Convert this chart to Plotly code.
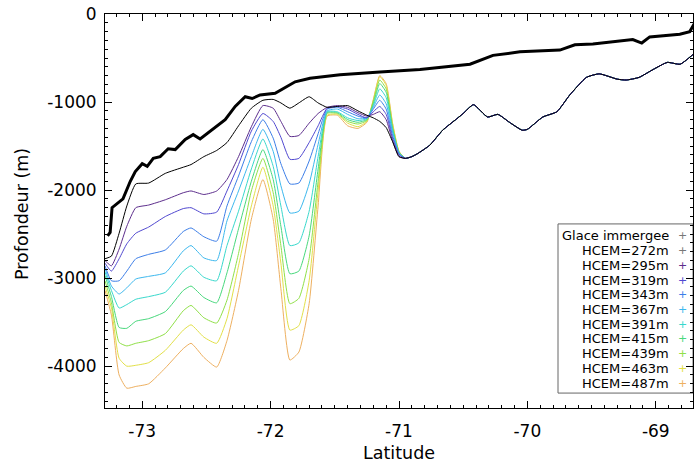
import plotly.graph_objects as go

# ---------------- data ----------------
lat_grid = [-73.29, -73.24, -73.18, -73.12, -73.05, -72.95, -72.82, -72.68, -72.62, -72.52,
            -72.42, -72.34, -72.25, -72.15, -72.06, -71.98, -71.92, -71.85, -71.78, -71.70,
            -71.63, -71.56, -71.48, -71.40, -71.32, -71.25, -71.20, -71.15, -71.10, -71.05, -71.00]

d272 = [-2780, -2750, -2490, -2180, -1930, -1920, -1810, -1740, -1710, -1620, -1550, -1460, -1270, -1070, -980, -970,
        -1010, -1070, -1010, -940, -1010, -1060, -1050, -1040, -1100, -1150, -1180, -1220, -1290, -1450, -1620]
d295 = [-2800, -2860, -2670, -2410, -2200, -2170, -2110, -2030, -2010, -2050, -2010, -1880, -1620, -1280, -1040, -1070,
        -1220, -1390, -1380, -1240, -1130, -1060, -1040, -1060, -1120, -1160, -1140, -1110, -1200, -1440, -1620]
d319 = [-2830, -2920, -2780, -2610, -2490, -2420, -2300, -2210, -2200, -2270, -2250, -2010, -1710, -1330, -1130, -1220,
        -1400, -1650, -1640, -1460, -1270, -1070, -1050, -1080, -1140, -1180, -1110, -1050, -1140, -1410, -1600]
d343 = [-2860, -3030, -3030, -2920, -2780, -2730, -2680, -2470, -2430, -2530, -2580, -2180, -1840, -1450, -1200, -1410,
        -1700, -1930, -1920, -1670, -1360, -1080, -1060, -1110, -1160, -1180, -1080, -980, -1080, -1380, -1590]
d367 = [-2890, -3090, -3180, -3110, -3010, -2980, -2940, -2690, -2630, -2770, -2800, -2350, -2010, -1620, -1310, -1560,
        -1950, -2260, -2240, -1930, -1480, -1100, -1080, -1140, -1190, -1180, -1060, -920, -1020, -1340, -1580]
d391 = [-2930, -3140, -3340, -3300, -3240, -3210, -3160, -2920, -2860, -2990, -3030, -2630, -2240, -1760, -1420, -1730,
        -2180, -2630, -2600, -2240, -1620, -1110, -1110, -1180, -1210, -1190, -1040, -850, -950, -1320, -1580]
d415 = [-2970, -3210, -3560, -3570, -3490, -3460, -3380, -3140, -3090, -3220, -3280, -2940, -2440, -1900, -1540, -1880,
        -2410, -2950, -2920, -2520, -1760, -1120, -1120, -1200, -1230, -1200, -1020, -790, -890, -1300, -1570]
d439 = [-3030, -3280, -3730, -3770, -3740, -3710, -3630, -3370, -3310, -3450, -3510, -3250, -2720, -2010, -1640, -2030,
        -2630, -3290, -3230, -2780, -1900, -1130, -1130, -1220, -1250, -1210, -990, -750, -850, -1280, -1570]
d463 = [-3090, -3340, -3910, -4000, -3990, -3960, -3820, -3590, -3530, -3670, -3740, -3460, -2860, -2180, -1740, -2180,
        -2830, -3590, -3540, -3030, -2010, -1150, -1140, -1240, -1280, -1220, -980, -710, -810, -1250, -1560]
d487 = [-3140, -3420, -4100, -4250, -4230, -4200, -4020, -3800, -3740, -3900, -4010, -3710, -3140, -2330, -1880, -2330,
        -3120, -3930, -3840, -3290, -2180, -1160, -1150, -1270, -1300, -1230, -970, -700, -790, -1240, -1560]

# shared bathymetry north of -71
tail_lat = [-70.95, -70.90, -70.86, -70.76, -70.66, -70.55, -70.50, -70.42, -70.31, -70.23, -70.14, -70.04, -70.00,
            -69.88, -69.77, -69.67, -69.54, -69.44, -69.30, -69.23, -69.13, -69.02, -68.91, -68.81, -68.71]
tail_depth = [-1640, -1620, -1590, -1490, -1320, -1190, -1130, -1030, -1170, -1140, -1230, -1320, -1310,
              -1170, -1110, -920, -720, -680, -740, -750, -720, -630, -550, -570, -460]

# ice draft ("Glace immergee")
ice_lat = [-73.27, -73.25, -73.235, -73.19, -73.15, -73.093, -73.054, -73.0, -72.961, -72.914, -72.86, -72.798,
           -72.743, -72.665, -72.603, -72.549, -72.455, -72.354, -72.276, -72.198, -72.144, -72.082, -71.965,
           -71.887, -71.809, -71.693, -71.459, -71.148, -70.837, -70.447, -70.268, -70.058, -69.747, -69.63,
           -69.49, -69.179, -69.109, -69.047, -68.813, -68.735, -68.70]
ice_depth = [-2520, -2480, -2200, -2150, -2100, -1900, -1790, -1700, -1730, -1640, -1620, -1530,
             -1540, -1425, -1370, -1420, -1310, -1200, -1050, -940, -960, -920, -900,
             -830, -770, -730, -690, -660, -630, -570, -470, -430, -410, -350,
             -340, -290, -330, -260, -230, -200, -110]

series_names = ["HCEM=272m", "HCEM=295m", "HCEM=319m", "HCEM=343m", "HCEM=367m",
                "HCEM=391m", "HCEM=415m", "HCEM=439m", "HCEM=463m", "HCEM=487m"]
series_depths = [d272, d295, d319, d343, d367, d391, d415, d439, d463, d487]
series_colors = ["#000000", "#5c2d8c", "#5048d0", "#3c7ee8", "#3cb8ee", "#38d8cc",
                 "#48d87c", "#90e048", "#e2e048", "#eeb060"]

x_ticks = [-73, -72, -71, -70, -69]
y_ticks = [0, -1000, -2000, -3000, -4000]
x_range = [-73.29, -68.71]
y_range = [-4475, 0]

FONT = "DejaVu Sans"

fig = go.Figure()

# draw deepest first so darker lines sit on top
for name, dep, col in reversed(list(zip(series_names, series_depths, series_colors))):
    fig.add_trace(go.Scatter(
        x=lat_grid + tail_lat, y=dep + tail_depth, mode="lines", name=name,
        line=dict(color=col, width=1, shape="spline", smoothing=0.5),
        showlegend=False, hoverinfo="skip"))

fig.add_trace(go.Scatter(x=ice_lat, y=ice_depth, mode="lines", name="Glace immergee",
                         line=dict(color="black", width=3), showlegend=False, hoverinfo="skip"))

# empty trace to activate the mirrored (top/right) tick axes
fig.add_trace(go.Scatter(x=[], y=[], xaxis="x2", yaxis="y2", showlegend=False, hoverinfo="skip"))

# ---------------- layout ----------------
L, R, T, B, W, H = 105, 4, 12, 56, 697, 464
PW, PH = W - L - R, H - T - B

def px_x(px):
    return (px - L) / PW

def px_y(py):
    return (H - B - py) / PH

axis_common = dict(
    showline=True, linecolor="black", linewidth=1,
    ticks="inside", ticklen=7, tickwidth=1, tickcolor="black",
    showgrid=False, zeroline=False,
    tickfont=dict(family=FONT, size=17, color="black"),
)
xminor = dict(dtick=0.1, tick0=0, ticks="inside", ticklen=3, tickcolor="black", showgrid=False)
yminor = dict(dtick=100, tick0=0, ticks="inside", ticklen=3, tickcolor="black", showgrid=False)

fig.update_layout(
    width=W, height=H, autosize=False,
    margin=dict(l=L, r=R, t=T, b=B, pad=0),
    paper_bgcolor="white", plot_bgcolor="white",
    xaxis=dict(range=x_range, tickvals=x_ticks, ticktext=[str(v) for v in x_ticks],
               minor=xminor, ticklabelstandoff=8, **axis_common),
    yaxis=dict(range=y_range, tickvals=y_ticks, ticktext=[str(v) for v in y_ticks],
               minor=yminor, ticklabelstandoff=4, **axis_common),
    xaxis2=dict(range=x_range, overlaying="x", side="top", anchor="y2", tickvals=x_ticks,
                showticklabels=False, minor=xminor, **axis_common),
    yaxis2=dict(range=y_range, overlaying="y", side="right", anchor="x2", tickvals=y_ticks,
                showticklabels=False, minor=yminor, **axis_common),
    showlegend=False,
)

annotations = [
    dict(text="Latitude", x=0.5, y=px_y(453), xref="paper", yref="paper", showarrow=False,
         xanchor="center", yanchor="middle", font=dict(family=FONT, size=17.5, color="black")),
    dict(text="Profondeur (m)", x=px_x(22), y=px_y(213), xref="paper", yref="paper", showarrow=False,
         textangle=-90, xanchor="center", yanchor="middle", font=dict(family=FONT, size=17.5, color="black")),
]

# custom legend (text right-aligned, symbol to the right)
legend_labels = ["Glace immergee"] + series_names
legend_colors = ["#000000"] + series_colors
for i, (lab, col) in enumerate(zip(legend_labels, legend_colors)):
    yy = px_y(235 + 14.8 * i)
    annotations.append(dict(text=lab, x=px_x(671), y=yy, xref="paper", yref="paper", showarrow=False,
                            xanchor="right", yanchor="middle",
                            font=dict(family=FONT, size=13, color="black")))
    annotations.append(dict(text="+", x=px_x(682), y=yy, xref="paper", yref="paper", showarrow=False,
                            xanchor="center", yanchor="middle",
                            font=dict(family=FONT, size=11, color=col if col != "#000000" else "#777777")))

fig.update_layout(annotations=annotations)
fig.add_shape(type="rect", xref="paper", yref="paper",
              x0=px_x(558), x1=px_x(693), y0=px_y(393), y1=px_y(223),
              line=dict(color="#666666", width=1), fillcolor="white", layer="below")

fig.write_html("out.html")
